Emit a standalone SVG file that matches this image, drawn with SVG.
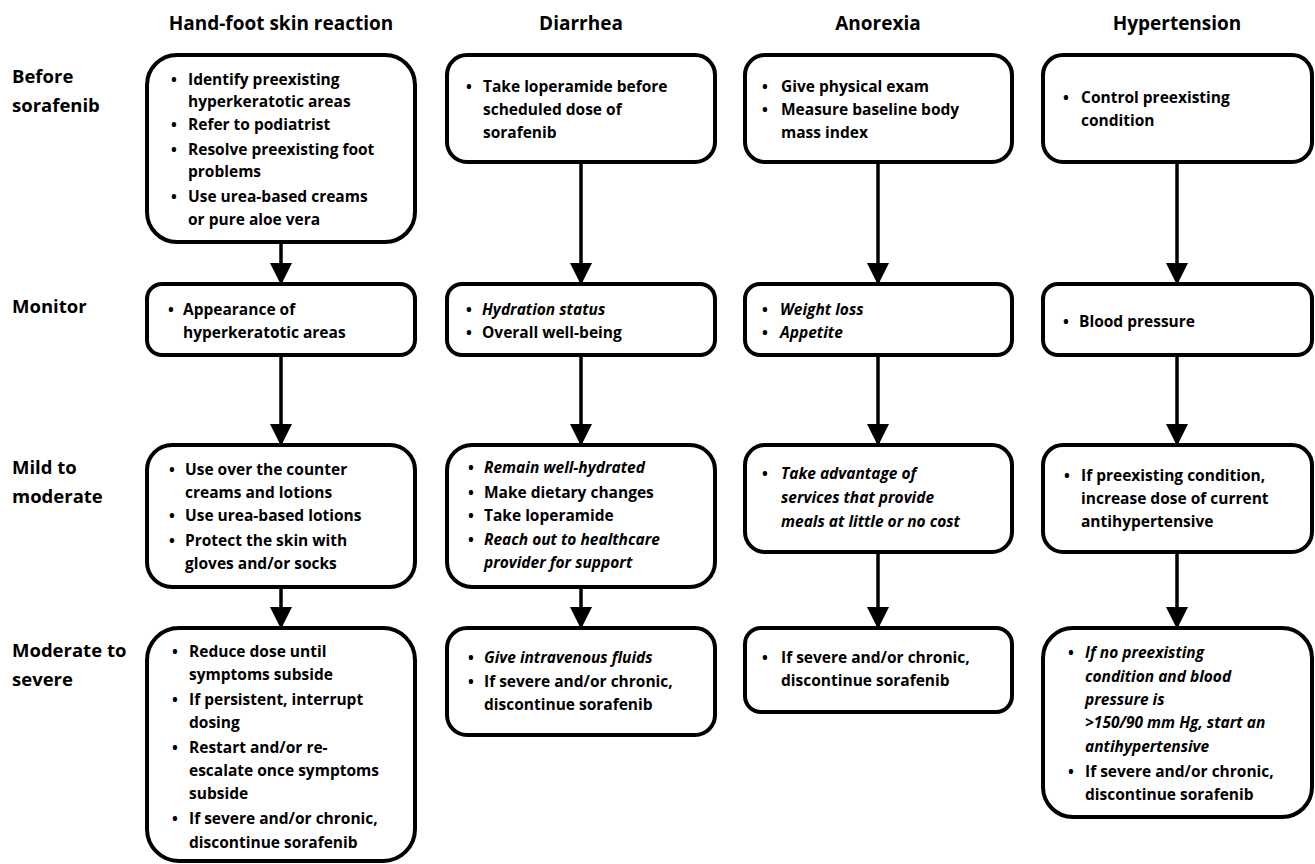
<svg xmlns="http://www.w3.org/2000/svg" width="1315" height="864" viewBox="0 0 1315 864">
<style>
text{font-family:"Open Sans","Liberation Sans",sans-serif;font-weight:bold;fill:#000}
.h{font-size:19px;text-anchor:middle}
.r{font-size:18.5px}
.t{font-size:15.5px}
.i{font-style:italic}
.box{fill:#fff;stroke:#000;stroke-width:4}
.c{stroke:#000;stroke-width:3.5;fill:none;marker-end:url(#ah)}
</style>
<defs>
<marker id="ah" markerUnits="userSpaceOnUse" markerWidth="23" markerHeight="22" refX="21" refY="11" orient="auto" viewBox="0 0 23 22">
<path d="M0,0 L22,11 L0,22 Z" fill="#000"/>
</marker>
</defs>
<rect width="1315" height="864" fill="#fff"/>

<g id="headers">
<text class="h" x="281" y="30">Hand-foot skin reaction</text>
<text class="h" x="581" y="30">Diarrhea</text>
<text class="h" x="878" y="30">Anorexia</text>
<text class="h" x="1177" y="30">Hypertension</text>
</g>
<g id="row-labels">
<text class="r" x="12" y="83">Before</text>
<text class="r" x="12" y="112">sorafenib</text>
<text class="r" x="12" y="313">Monitor</text>
<text class="r" x="12" y="474">Mild to</text>
<text class="r" x="12" y="503">moderate</text>
<text class="r" x="12" y="657">Moderate to</text>
<text class="r" x="12" y="686">severe</text>
</g>

<g id="connectors">
<line class="c" x1="281" y1="242" x2="281" y2="284"/>
<line class="c" x1="281" y1="355" x2="281" y2="445"/>
<line class="c" x1="281" y1="587" x2="281" y2="628"/>
<line class="c" x1="581" y1="162" x2="581" y2="284"/>
<line class="c" x1="581" y1="355" x2="581" y2="445"/>
<line class="c" x1="581" y1="587" x2="581" y2="628"/>
<line class="c" x1="878" y1="162" x2="878" y2="284"/>
<line class="c" x1="878" y1="355" x2="878" y2="445"/>
<line class="c" x1="878" y1="552" x2="878" y2="628"/>
<line class="c" x1="1177" y1="162" x2="1177" y2="284"/>
<line class="c" x1="1177" y1="355" x2="1177" y2="445"/>
<line class="c" x1="1177" y1="552" x2="1177" y2="628"/>
</g>

<!-- Column 1: Hand-foot skin reaction -->
<g id="hfsr-before">
<rect class="box" x="147" y="55" width="268" height="187" rx="30"/>
<text class="t" x="171" y="85">•</text><text class="t" x="188" y="85">Identify preexisting</text>
<text class="t" x="188" y="107">hyperkeratotic areas</text>
<text class="t" x="171" y="130">•</text><text class="t" x="188" y="130">Refer to podiatrist</text>
<text class="t" x="171" y="155">•</text><text class="t" x="188" y="155">Resolve preexisting foot</text>
<text class="t" x="188" y="177">problems</text>
<text class="t" x="171" y="202">•</text><text class="t" x="188" y="202">Use urea-based creams</text>
<text class="t" x="188" y="225">or pure aloe vera</text>
</g>
<g id="hfsr-monitor">
<rect class="box" x="147" y="284" width="268" height="71" rx="15"/>
<text class="t" x="168" y="315">•</text><text class="t" x="183" y="315">Appearance of</text>
<text class="t" x="183" y="338">hyperkeratotic areas</text>
</g>
<g id="hfsr-mild">
<rect class="box" x="147" y="445" width="268" height="142" rx="25"/>
<text class="t" x="169" y="475">•</text><text class="t" x="185" y="475">Use over the counter</text>
<text class="t" x="185" y="498">creams and lotions</text>
<text class="t" x="169" y="521">•</text><text class="t" x="185" y="521">Use urea-based lotions</text>
<text class="t" x="169" y="546">•</text><text class="t" x="185" y="546">Protect the skin with</text>
<text class="t" x="185" y="569">gloves and/or socks</text>
</g>
<g id="hfsr-severe">
<rect class="box" x="147" y="628" width="268" height="233" rx="32"/>
<text class="t" x="172" y="657">•</text><text class="t" x="189" y="657">Reduce dose until</text>
<text class="t" x="189" y="680">symptoms subside</text>
<text class="t" x="172" y="705">•</text><text class="t" x="189" y="705">If persistent, interrupt</text>
<text class="t" x="189" y="728">dosing</text>
<text class="t" x="172" y="753">•</text><text class="t" x="189" y="753">Restart and/or re-</text>
<text class="t" x="189" y="776">escalate once symptoms</text>
<text class="t" x="189" y="799">subside</text>
<text class="t" x="172" y="824">•</text><text class="t" x="189" y="824">If severe and/or chronic,</text>
<text class="t" x="189" y="848">discontinue sorafenib</text>
</g>

<!-- Column 2: Diarrhea -->
<g id="diarrhea-before">
<rect class="box" x="447" y="55" width="268" height="107" rx="20"/>
<text class="t" x="466" y="92">•</text><text class="t" x="483" y="92">Take loperamide before</text>
<text class="t" x="483" y="115">scheduled dose of</text>
<text class="t" x="483" y="138">sorafenib</text>
</g>
<g id="diarrhea-monitor">
<rect class="box" x="447" y="284" width="268" height="71" rx="15"/>
<text class="t" x="466" y="315">•</text><text class="t i" x="482" y="315">Hydration status</text>
<text class="t" x="466" y="338">•</text><text class="t" x="482" y="338">Overall well-being</text>
</g>
<g id="diarrhea-mild">
<rect class="box" x="447" y="445" width="268" height="142" rx="25"/>
<text class="t" x="468" y="473">•</text><text class="t i" x="484" y="473">Remain well-hydrated</text>
<text class="t" x="468" y="498">•</text><text class="t" x="484" y="498">Make dietary changes</text>
<text class="t" x="468" y="521">•</text><text class="t" x="484" y="521">Take loperamide</text>
<text class="t" x="468" y="545">•</text><text class="t i" x="484" y="545">Reach out to healthcare</text>
<text class="t i" x="484" y="568">provider for support</text>
</g>
<g id="diarrhea-severe">
<rect class="box" x="447" y="628" width="268" height="107" rx="20"/>
<text class="t" x="468" y="663">•</text><text class="t i" x="484" y="663">Give intravenous fluids</text>
<text class="t" x="468" y="687">•</text><text class="t" x="484" y="687">If severe and/or chronic,</text>
<text class="t" x="484" y="710">discontinue sorafenib</text>
</g>

<!-- Column 3: Anorexia -->
<g id="anorexia-before">
<rect class="box" x="745" y="55" width="267" height="107" rx="20"/>
<text class="t" x="762" y="92">•</text><text class="t" x="781" y="92">Give physical exam</text>
<text class="t" x="762" y="115">•</text><text class="t" x="781" y="115">Measure baseline body</text>
<text class="t" x="781" y="138">mass index</text>
</g>
<g id="anorexia-monitor">
<rect class="box" x="745" y="284" width="267" height="71" rx="15"/>
<text class="t" x="762" y="315">•</text><text class="t i" x="780" y="315">Weight loss</text>
<text class="t" x="762" y="338">•</text><text class="t i" x="780" y="338">Appetite</text>
</g>
<g id="anorexia-mild">
<rect class="box" x="745" y="445" width="267" height="107" rx="20"/>
<text class="t" x="762" y="479">•</text><text class="t i" x="781" y="479">Take advantage of</text>
<text class="t i" x="781" y="503">services that provide</text>
<text class="t i" x="781" y="527">meals at little or no cost</text>
</g>
<g id="anorexia-severe">
<rect class="box" x="745" y="628" width="267" height="84" rx="16"/>
<text class="t" x="762" y="663">•</text><text class="t" x="781" y="663">If severe and/or chronic,</text>
<text class="t" x="781" y="686">discontinue sorafenib</text>
</g>

<!-- Column 4: Hypertension -->
<g id="hypertension-before">
<rect class="box" x="1043" y="55" width="269" height="107" rx="20"/>
<text class="t" x="1063" y="103">•</text><text class="t" x="1081" y="103">Control preexisting</text>
<text class="t" x="1081" y="126">condition</text>
</g>
<g id="hypertension-monitor">
<rect class="box" x="1043" y="284" width="269" height="71" rx="15"/>
<text class="t" x="1063" y="327">•</text><text class="t" x="1079" y="327">Blood pressure</text>
</g>
<g id="hypertension-mild">
<rect class="box" x="1043" y="445" width="269" height="107" rx="20"/>
<text class="t" x="1064" y="481">•</text><text class="t" x="1081" y="481">If preexisting condition,</text>
<text class="t" x="1081" y="504">increase dose of current</text>
<text class="t" x="1081" y="527">antihypertensive</text>
</g>
<g id="hypertension-severe">
<rect class="box" x="1043" y="628" width="269" height="189" rx="30"/>
<text class="t" x="1068" y="658">•</text><text class="t i" x="1085" y="658">If no preexisting</text>
<text class="t i" x="1085" y="682">condition and blood</text>
<text class="t i" x="1085" y="705">pressure is</text>
<text class="t i" x="1085" y="728">&gt;150/90 mm Hg, start an</text>
<text class="t i" x="1085" y="752">antihypertensive</text>
<text class="t" x="1068" y="777">•</text><text class="t" x="1085" y="777">If severe and/or chronic,</text>
<text class="t" x="1085" y="800">discontinue sorafenib</text>
</g>
</svg>
